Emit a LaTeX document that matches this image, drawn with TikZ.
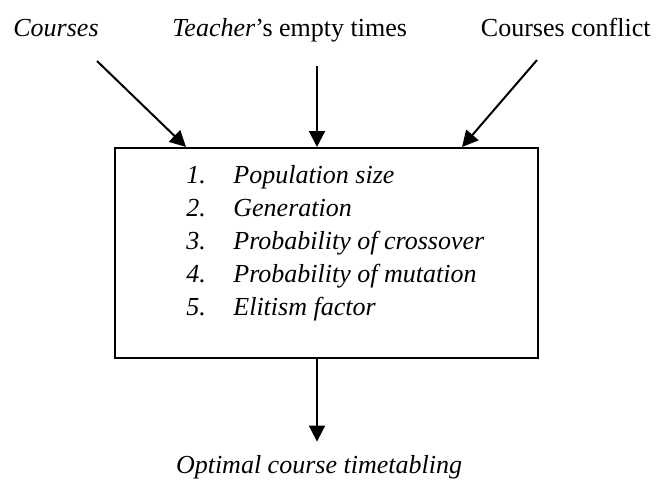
\documentclass[tikz,border=0pt]{standalone}
\usepackage{fontspec}
\setmainfont{Liberation Serif}
\usetikzlibrary{arrows.meta,calc}

\begin{document}
\begin{tikzpicture}[%
            x=0.5pt, y=-0.5pt,
            mytext/.style={font=\fontsize{13}{16}\selectfont, inner sep=0pt},
            myitem/.style={mytext, font=\fontsize{13}{16}\selectfont\itshape, anchor=base west},
            myarrow/.style={line width=1pt, -{Triangle[length=8pt,width=8pt]}},
            mybox/.style={draw, line width=1pt, minimum width=211.5pt, minimum height=105pt, inner sep=0pt}
    ]
        \useasboundingbox (0,0) rectangle (658,479);

        % inputs
        \node [mytext, anchor=base west] (courses) at (13,36) {\textit{Courses}};
        \node [mytext, anchor=base west] (teacher) at (172,36) {\textit{Teacher}'s empty times};
        \node [mytext, anchor=base east] (conflict) at (651,36) {Courses conflict};

        % parameters box
        \node [mybox] (box) at (326.5,253) {};
        \foreach \txt [count=\i] in {Population size, Generation, Probability of crossover,
                                     Probability of mutation, Elitism factor} {
            \node [myitem] (num\i) at (186,{183+33*(\i-1)}) {\i.};
            \node [myitem] (par\i) at (233,{183+33*(\i-1)}) {\txt};
        }

        % output
        \node [mytext, anchor=base] (output) at (319,473) {\textit{Optimal course timetabling}};

        \coordinate (from1) at (97,61);
        \coordinate (from2) at (317,66);
        \coordinate (from3) at (537,60);
        \draw [myarrow] (from1) -- ($(box.north west)+(72,0)$);
        \draw [myarrow] (from2) -- (from2 |- box.north);
        \draw [myarrow] (from3) -- ($(box.north west)+(348,0)$);
        \draw [myarrow] (box.south -| from2) -- ($(output.north -| from2)+(0,-13)$);
    \end{tikzpicture}
\end{document}
